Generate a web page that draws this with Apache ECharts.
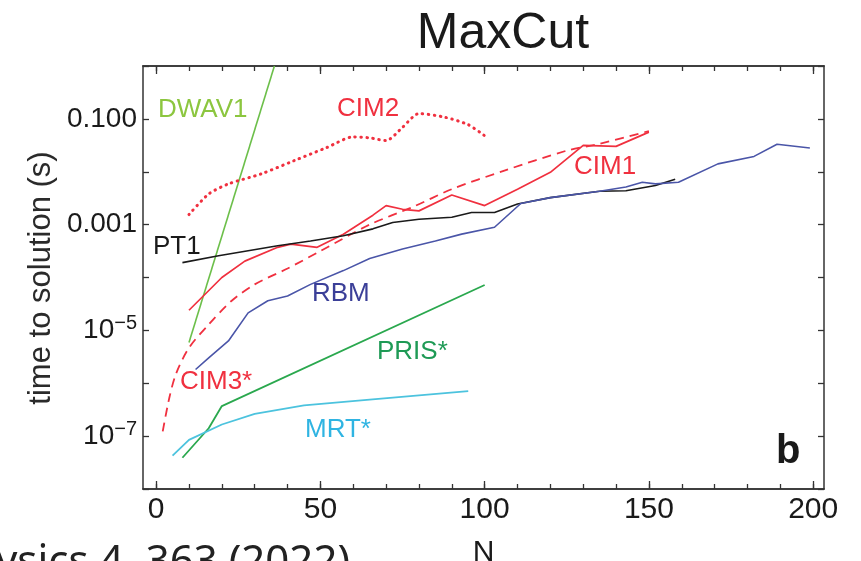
<!DOCTYPE html>
<html><head><meta charset="utf-8">
<script src="https://cdn.jsdelivr.net/npm/echarts@6/dist/echarts.min.js"></script>
<style>html,body{margin:0;padding:0;background:#fff}#c{width:861px;height:561px}</style>
</head><body><div id="c"></div>
<script>
// ---- data (N, time to solution in seconds) ----
const xMinorTicks = [0,10,20,30,40,50,60,70,80,90,100,110,120,130,140,150,160,170,180,190,200];
const xMajorTicks = [0,50,100,150,200];
const yLabelText = {'-1':'0.100','-3':'0.001','-5':'{b|10}{s|−5}','-7':'{b|10}{s|−7}'};

const dwavN = [10, 36];
const dwavT = [5.9e-6, 1.0];

const cim2N = [10,16,22,32,42,52,60,65,70,75,80,88,95,100];
const cim2T = [1.55e-3,3.8e-3,5.89e-3,9.12e-3,1.62e-2,2.88e-2,4.57e-2,4.37e-2,3.89e-2,6.92e-2,0.126,0.107,7.76e-2,4.79e-2];

const cim1N = [10,20,27,37,41,49,57,66,70,75,80,90,100,110,120,130,140,150];
const cim1T = [2.4e-5,1.0e-4,2.04e-4,3.72e-4,4.27e-4,3.72e-4,6.6e-4,1.51e-3,2.29e-3,1.95e-3,1.82e-3,3.63e-3,2.29e-3,4.68e-3,9.77e-3,3.16e-2,3.02e-2,5.62e-2];

const cim3N = [2,4,6,10,16,23,30,40,50,65,78,90,106,125,135,150];
const cim3T = [1.23e-7,5.25e-7,1.48e-6,4.68e-6,1.29e-5,3.63e-5,7.41e-5,1.48e-4,3.16e-4,1.0e-3,2.14e-3,4.68e-3,1.05e-2,2.51e-2,3.39e-2,5.89e-2];

const pt1N = [8,19,37,47,57,66,72,80,90,96,103,110,120,135,143,152,158];
const pt1T = [1.91e-4,2.57e-4,3.98e-4,4.9e-4,6.17e-4,8.32e-4,1.10e-3,1.26e-3,1.38e-3,1.70e-3,1.70e-3,2.45e-3,3.24e-3,4.27e-3,4.37e-3,5.5e-3,7.24e-3];

const rbmN = [12,16,22,28,34,40,47,57,65,75,85,93,103,111,120,135,143,148,152,159,171,182,189,199];
const rbmT = [1.82e-6,3.02e-6,6.31e-6,2.14e-5,3.63e-5,4.47e-5,7.41e-5,1.35e-4,2.29e-4,3.47e-4,4.9e-4,6.61e-4,8.91e-4,2.51e-3,3.24e-3,4.27e-3,5.13e-3,6.31e-3,5.89e-3,6.31e-3,1.41e-2,1.95e-2,3.31e-2,2.82e-2];

const prisN = [8,16,20,100];
const prisT = [3.9e-8,1.41e-7,3.7e-7,7.2e-5];

const mrtN = [5,10,20,30,45,65,95];
const mrtT = [4.27e-8,8.5e-8,1.66e-7,2.63e-7,3.8e-7,4.9e-7,7.1e-7];

// ---- chart ----
const FONT = '"Liberation Sans", Arial, sans-serif';
const AX = '#333';
const zip = (a, b) => a.map((v, i) => [v, b[i]]);

function line(name, xs, ys, color, type, width, smooth, cap) {
  return {
    name, type: 'line', data: zip(xs, ys), showSymbol: false, symbol: 'none',
    smooth: smooth || false, clip: true,
    lineStyle: { color, width: width || 1.6, type: type || 'solid', cap: cap || 'butt' },
    animation: false
  };
}

function xAx(pos, ticks, len, labels) {
  return {
    type: 'value', min: -4, max: 203.3, position: pos,
    axisLine: { show: true, onZero: false, lineStyle: { color: AX, width: 1.5 } },
    axisTick: { show: true, inside: true, length: len, customValues: ticks, lineStyle: { color: AX, width: 1.3 } },
    axisLabel: labels ? { show: true, customValues: xMajorTicks, fontSize: 30, color: '#1a1a1a', fontFamily: FONT, margin: 6 } : { show: false },
    splitLine: { show: false },
    name: labels ? 'N' : '', nameLocation: 'middle', nameGap: 49,
    nameTextStyle: { fontSize: 30, color: '#1a1a1a', fontFamily: FONT }
  };
}

function yAx(pos, labels) {
  return {
    type: 'log', logBase: 10, min: 1e-8, max: 1, splitNumber: 8, position: pos,
    axisLine: { show: true, onZero: false, lineStyle: { color: AX, width: 1.5 } },
    axisTick: { show: true, inside: true, length: 6, lineStyle: { color: AX, width: 1.3 } },
    axisLabel: labels ? {
      show: true, fontSize: 28, color: '#1a1a1a', fontFamily: FONT, margin: 6,
      formatter: v => { const e = Math.round(Math.log10(v)); return yLabelText[String(e)] || ''; },
      rich: {
        b: { fontSize: 28, fontFamily: FONT, color: '#1a1a1a' },
        s: { fontSize: 20, fontFamily: FONT, color: '#1a1a1a', padding: [0, 0, 14, 0] }
      }
    } : { show: false },
    splitLine: { show: false }
  };
}

function txt(t, x, y, color, size, weight, align) {
  return { type: 'text', x, y, style: { text: t, fill: color, font: (weight || 'normal') + ' ' + size + 'px ' + FONT, textAlign: align || 'left', textVerticalAlign: 'middle' }, z: 10 };
}

const chart = echarts.init(document.getElementById('c'), null, { renderer: 'canvas' });
chart.setOption({
  animation: false,
  backgroundColor: '#fff',
  grid: { left: 143, top: 66, right: 37, bottom: 72, containLabel: false, outerBoundsMode: 'none' },
  xAxis: [xAx('bottom', xMajorTicks, 8, true), xAx('bottom', xMinorTicks, 5, false), xAx('top', xMajorTicks, 8, false), xAx('top', xMinorTicks, 5, false)],
  yAxis: [yAx('left', true), yAx('right', false)],
  series: [
    line('DWAV1', dwavN, dwavT, '#6cbf4a', 'solid', 1.6),
    line('CIM2', cim2N, cim2T, '#f0303f', [0.5, 5.5], 3, 0.25, 'round'),
    line('CIM1', cim1N, cim1T, '#f0303f', 'solid', 1.7),
    line('CIM3*', cim3N, cim3T, '#f0303f', [9, 6], 1.8, 0.3),
    line('PT1', pt1N, pt1T, '#1a1a1a', 'solid', 1.6),
    line('RBM', rbmN, rbmT, '#4a55a8', 'solid', 1.6),
    line('PRIS*', prisN, prisT, '#2aa84e', 'solid', 1.8),
    line('MRT*', mrtN, mrtT, '#4cc3de', 'solid', 1.8)
  ],
  graphic: [
    txt('MaxCut', 503, 34, '#1a1a1a', 50, 'normal', 'center'),
    { type: 'text', x: 41, y: 278, rotation: Math.PI / 2, style: { text: 'time to solution (s)', fill: '#2a2a2a', font: '31px ' + FONT, textAlign: 'center', textVerticalAlign: 'middle' }, z: 10 },
    txt('DWAV1', 158, 110, '#8cc63f', 26),
    txt('CIM2', 337, 109, '#f0303f', 26),
    txt('CIM1', 574, 167, '#f0303f', 26),
    txt('PT1', 153, 247, '#1a1a1a', 26),
    txt('RBM', 312, 294, '#3b3f98', 26),
    txt('PRIS*', 377, 352, '#1e9a55', 26),
    txt('CIM3*', 180, 382, '#f0303f', 26),
    txt('MRT*', 305, 430, '#2fb4e2', 26),
    txt('b', 776, 452, '#1a1a1a', 40, 'bold'),
    { type: 'text', x: 350, y: 563, style: { text: 'Nature Physics 4, 363 (2022)', fill: '#222', font: '42px "Noto Sans", sans-serif', textAlign: 'right', textVerticalAlign: 'middle' }, z: 10 }
  ]
});
</script></body></html>
